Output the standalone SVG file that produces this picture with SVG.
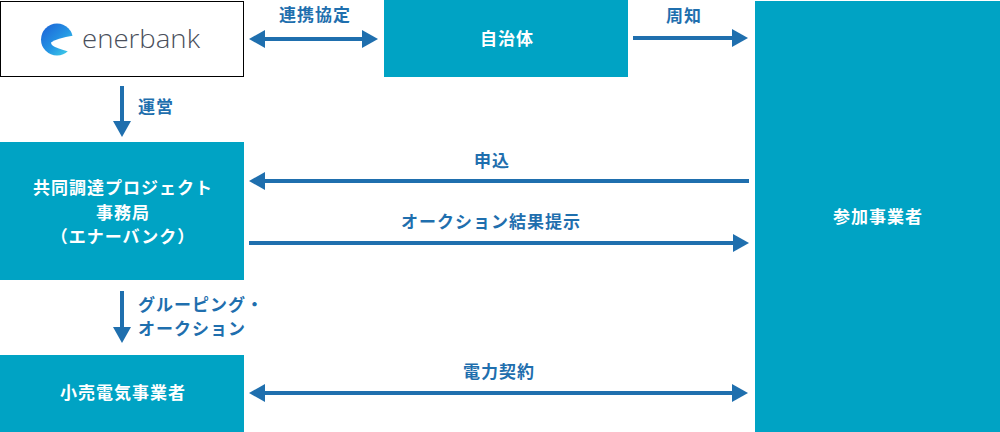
<svg xmlns="http://www.w3.org/2000/svg" width="1000" height="432" viewBox="0 0 1000 432">
<defs>
<style>
.box{fill:#00a3c4}
.bt{fill:#fff;font-family:"Noto Sans CJK JP","Noto Sans",sans-serif;font-weight:700;font-size:17px;letter-spacing:1px;text-anchor:middle}
.lb{fill:#1f6fae;font-family:"Noto Sans CJK JP","Noto Sans",sans-serif;font-weight:700;font-size:17px;letter-spacing:1px}
.cn{stroke:#1f6fae;stroke-width:4;fill:none}
</style>
<marker id="ah" markerUnits="userSpaceOnUse" markerWidth="16" markerHeight="18" refX="0" refY="9" orient="auto-start-reverse" viewBox="0 0 16 18">
<path d="M0,0 L16,9 L0,18 z" fill="#1f6fae"/>
</marker>
<linearGradient id="lg" x1="0" y1="0" x2="1" y2="1">
<stop offset="0" stop-color="#1b5fd6"/>
<stop offset="0.55" stop-color="#2596e4"/>
<stop offset="1" stop-color="#45dbe8"/>
</linearGradient>
</defs>
<rect width="1000" height="432" fill="#fff"/>

<g id="enerbank">
<rect x="0.5" y="1.5" width="243" height="75" fill="#fff" stroke="#000" stroke-width="1"/>
<circle cx="57" cy="39.5" r="16" fill="url(#lg)"/>
<path d="M51,42.5 Q56,38.5 74,35.5 L74,53 Q62,50 55,47 Q51,45 51,42.5 Z" fill="#fff"/>
<text x="82" y="48" font-family="'Open Sans','Noto Sans',sans-serif" font-size="26" font-weight="300" fill="#4a4f5b" textLength="118" lengthAdjust="spacingAndGlyphs">enerbank</text>
</g>

<g id="jichitai">
<rect class="box" x="384" y="0" width="244" height="77"/>
<text class="bt" x="507" y="45">自治体</text>
</g>

<g id="sanka">
<rect class="box" x="755" y="1" width="245" height="431"/>
<text class="bt" x="878" y="223">参加事業者</text>
</g>

<g id="jimukyoku">
<rect class="box" x="0" y="142" width="244" height="138"/>
<text class="bt" x="123" y="194">共同調達プロジェクト</text>
<text class="bt" x="123" y="219">事務局</text>
<text class="bt" x="123" y="243">（エナーバンク）</text>
</g>

<g id="kouri">
<rect class="box" x="0" y="355" width="244" height="77"/>
<text class="bt" x="123" y="399">小売電気事業者</text>
</g>

<g id="connectors">
<line class="cn" x1="265" y1="39" x2="362" y2="39" marker-start="url(#ah)" marker-end="url(#ah)"/>
<text class="lb" x="315" y="21" text-anchor="middle">連携協定</text>
<line class="cn" x1="633" y1="38" x2="732" y2="38" marker-end="url(#ah)"/>
<text class="lb" x="684" y="22" text-anchor="middle">周知</text>
<line class="cn" x1="122" y1="86" x2="122" y2="121" marker-end="url(#ah)"/>
<text class="lb" x="138" y="113">運営</text>
<line class="cn" x1="749" y1="181" x2="265" y2="181" marker-end="url(#ah)"/>
<text class="lb" x="492" y="167" text-anchor="middle">申込</text>
<line class="cn" x1="249" y1="243" x2="733" y2="243" marker-end="url(#ah)"/>
<text class="lb" x="491" y="228" text-anchor="middle">オークション結果提示</text>
<line class="cn" x1="122" y1="291" x2="122" y2="327" marker-end="url(#ah)"/>
<text class="lb" x="138" y="311">グルーピング・</text>
<text class="lb" x="138" y="335">オークション</text>
<line class="cn" x1="265" y1="393" x2="732" y2="393" marker-start="url(#ah)" marker-end="url(#ah)"/>
<text class="lb" x="499" y="378" text-anchor="middle">電力契約</text>
</g>
</svg>
